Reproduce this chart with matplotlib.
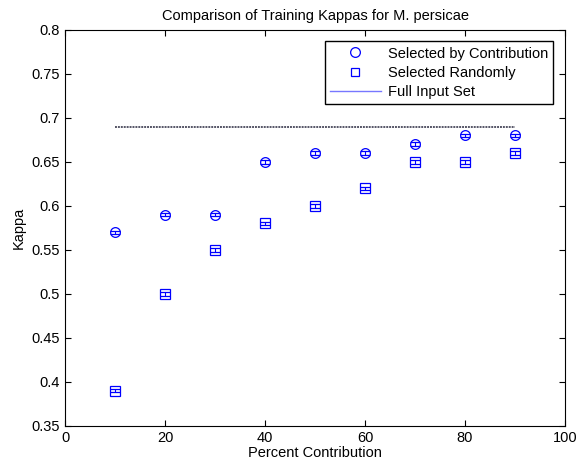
from matplotlib import pyplot as plt
from matplotlib.lines import Line2D

plt.rcParams['font.family'] = ['Liberation Sans', 'DejaVu Sans']
plt.rcParams['font.size'] = 10

# percent of inputs kept
pct = [10, 20, 30, 40, 50, 60, 70, 80, 90]
# kappas
kappa_contrib = [0.57, 0.59, 0.59, 0.65, 0.66, 0.66, 0.67, 0.68, 0.68]
kappa_random = [0.39, 0.50, 0.55, 0.58, 0.60, 0.62, 0.65, 0.65, 0.66]
err_contrib = [0.002] * 9
err_random = [0.002] * 9
full_kappa = 0.69

fig = plt.figure(figsize=(5.76, 4.66), dpi=100)
ax = fig.add_axes([0.113, 0.086, 0.868, 0.850])

ax.errorbar(pct, kappa_contrib, yerr=err_contrib, fmt='o', mfc='none', mec='blue',
            ecolor='blue', ms=7, mew=0.9, elinewidth=0.8, capsize=3.5, capthick=0.8)
ax.errorbar(pct, kappa_random, yerr=err_random, fmt='s', mfc='none', mec='blue',
            ecolor='blue', ms=6.5, mew=0.9, elinewidth=0.8, capsize=3.5, capthick=0.8)
ax.plot([pct[0], pct[-1]], [full_kappa, full_kappa], color='#555566', lw=1.4,
        ls=(0, (1, 0.5)))

ax.set_xlim(0, 100)
ax.set_ylim(0.35, 0.8)
ax.set_xticks([0, 20, 40, 60, 80, 100])
ax.set_yticks([0.35, 0.4, 0.45, 0.5, 0.55, 0.6, 0.65, 0.7, 0.75, 0.8])
ax.set_yticklabels(['0.35', '0.4', '0.45', '0.5', '0.55', '0.6', '0.65', '0.7', '0.75', '0.8'])
ax.tick_params(direction='in', top=True, right=True, length=4, width=0.8, labelsize=10.5)
for s in ax.spines.values():
    s.set_linewidth(0.8)

ax.set_xlabel('Percent Contribution', fontsize=10.5, labelpad=1)
ax.set_ylabel('Kappa', fontsize=10.5)
ax.set_title('Comparison of Training Kappas for M. persicae', fontsize=10.5, pad=7)

handles = [
    Line2D([], [], ls='none', marker='o', mfc='none', mec='blue', ms=7, mew=0.9),
    Line2D([], [], ls='none', marker='s', mfc='none', mec='blue', ms=6, mew=0.9),
    Line2D([], [], color='#7777ff', lw=1),
]
labels = ['Selected by Contribution', 'Selected Randomly', 'Full Input Set']
leg = ax.legend(handles, labels, loc='upper right', fancybox=False, edgecolor='black',
                framealpha=1, borderaxespad=0.8, handlelength=3.5, labelspacing=0.35,
                borderpad=0.35, fontsize=10.5, handletextpad=0.5)
leg.get_frame().set_linewidth(1)

fig.savefig("out.png")
